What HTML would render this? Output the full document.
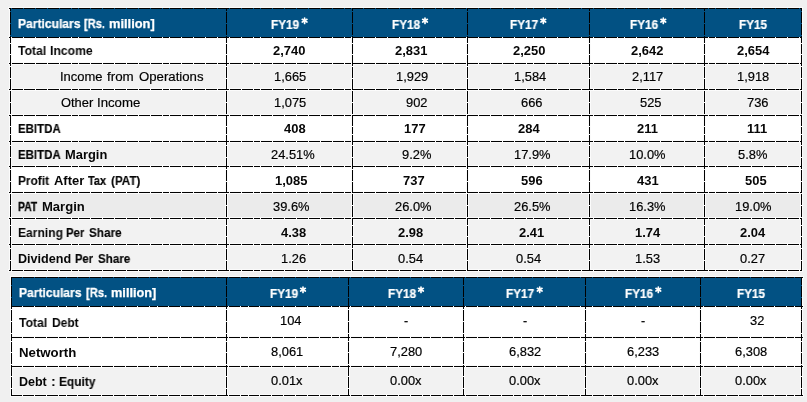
<!DOCTYPE html>
<html><head><meta charset="utf-8"><title>Financials</title>
<style>
html,body{margin:0;padding:0;}
body{width:807px;height:402px;overflow:hidden;background:#f0f0f0;position:relative;font-family:"Liberation Sans",sans-serif;}
svg{position:absolute;left:0;top:0;}
.t{position:absolute;white-space:pre;font-size:12.5px;line-height:12.5px;transform-origin:0 0;color:#000;-webkit-text-stroke:0.18px #000;will-change:transform;}
.b{font-weight:bold;color:#060606;-webkit-text-stroke:0;}
.w{color:#fff;-webkit-text-stroke:0.25px #fff;}
</style></head><body>
<svg width="807" height="402" viewBox="0 0 807 402" shape-rendering="crispEdges">
<rect x="10" y="37" width="792" height="26" fill="#ffffff"/>
<rect x="10" y="63" width="792" height="26" fill="#f2f2f2"/>
<rect x="10" y="89" width="792" height="26" fill="#f2f2f2"/>
<rect x="10" y="115" width="792" height="26" fill="#ffffff"/>
<rect x="10" y="141" width="792" height="25" fill="#f2f2f2"/>
<rect x="10" y="166" width="792" height="26" fill="#ffffff"/>
<rect x="10" y="192" width="792" height="26" fill="#ebebeb"/>
<rect x="10" y="218" width="792" height="26" fill="#f2f2f2"/>
<rect x="10" y="244" width="792" height="26" fill="#f2f2f2"/>
<g fill="#fbfbfb">
<rect x="8" y="7" width="795" height="3"/>
<rect x="8" y="36" width="795" height="3"/>
<rect x="8" y="62" width="795" height="3"/>
<rect x="8" y="88" width="795" height="3"/>
<rect x="8" y="114" width="795" height="3"/>
<rect x="8" y="140" width="795" height="3"/>
<rect x="8" y="165" width="795" height="3"/>
<rect x="8" y="191" width="795" height="3"/>
<rect x="8" y="217" width="795" height="3"/>
<rect x="8" y="243" width="795" height="3"/>
<rect x="8" y="269" width="795" height="3"/>
<rect x="9" y="7" width="3" height="265"/>
<rect x="225" y="7" width="3" height="265"/>
<rect x="351" y="7" width="3" height="265"/>
<rect x="466" y="7" width="3" height="265"/>
<rect x="588" y="7" width="3" height="265"/>
<rect x="703" y="7" width="3" height="265"/>
<rect x="800" y="7" width="3" height="265"/>
</g>
<rect x="10" y="8" width="792" height="29" fill="#025183"/>
<g stroke="#000" stroke-width="1" stroke-dasharray="10.93 1 10.93 1 10.93 1 10.93 1 10.93 1 10.93 1 10.93 1 6.5 1" fill="none">
<line x1="9" y1="8.5" x2="802" y2="8.5" stroke-dashoffset="20.80"/>
<line x1="9" y1="37.5" x2="802" y2="37.5" stroke-dashoffset="20.80"/>
<line x1="9" y1="63.5" x2="802" y2="63.5" stroke-dashoffset="20.80"/>
<line x1="9" y1="89.5" x2="802" y2="89.5" stroke-dashoffset="20.80"/>
<line x1="9" y1="115.5" x2="802" y2="115.5" stroke-dashoffset="20.80"/>
<line x1="9" y1="141.5" x2="802" y2="141.5" stroke-dashoffset="20.80"/>
<line x1="9" y1="166.5" x2="802" y2="166.5" stroke-dashoffset="20.80"/>
<line x1="9" y1="192.5" x2="802" y2="192.5" stroke-dashoffset="20.80"/>
<line x1="9" y1="218.5" x2="802" y2="218.5" stroke-dashoffset="20.80"/>
<line x1="9" y1="244.5" x2="802" y2="244.5" stroke-dashoffset="20.80"/>
<line x1="9" y1="270.5" x2="802" y2="270.5" stroke-dashoffset="20.80"/>
<line x1="10.5" y1="8" x2="10.5" y2="271" stroke-dashoffset="55.50"/>
<line x1="226.5" y1="8" x2="226.5" y2="271" stroke-dashoffset="55.50"/>
<line x1="352.5" y1="8" x2="352.5" y2="271" stroke-dashoffset="55.50"/>
<line x1="467.5" y1="8" x2="467.5" y2="271" stroke-dashoffset="55.50"/>
<line x1="589.5" y1="8" x2="589.5" y2="271" stroke-dashoffset="55.50"/>
<line x1="704.5" y1="8" x2="704.5" y2="271" stroke-dashoffset="55.50"/>
<line x1="801.5" y1="8" x2="801.5" y2="271" stroke-dashoffset="55.50"/>
</g>
<rect x="11" y="306" width="791" height="31" fill="#ffffff"/>
<rect x="11" y="337" width="791" height="29" fill="#ffffff"/>
<rect x="11" y="366" width="791" height="29" fill="#f2f2f2"/>
<g fill="#fbfbfb">
<rect x="10" y="276" width="794" height="3"/>
<rect x="10" y="305" width="794" height="3"/>
<rect x="10" y="336" width="794" height="3"/>
<rect x="10" y="365" width="794" height="3"/>
<rect x="10" y="394" width="794" height="3"/>
<rect x="10" y="276" width="3" height="121"/>
<rect x="225" y="276" width="3" height="121"/>
<rect x="347" y="276" width="3" height="121"/>
<rect x="462" y="276" width="3" height="121"/>
<rect x="584" y="276" width="3" height="121"/>
<rect x="699" y="276" width="3" height="121"/>
<rect x="800" y="276" width="3" height="121"/>
</g>
<rect x="11" y="277" width="791" height="29" fill="#025183"/>
<g stroke="#000" stroke-width="1" stroke-dasharray="10.93 1 10.93 1 10.93 1 10.93 1 10.93 1 10.93 1 10.93 1 6.5 1" fill="none">
<line x1="11" y1="277.5" x2="803" y2="277.5" stroke-dashoffset="35.50"/>
<line x1="11" y1="306.5" x2="803" y2="306.5" stroke-dashoffset="35.50"/>
<line x1="11" y1="337.5" x2="803" y2="337.5" stroke-dashoffset="35.50"/>
<line x1="11" y1="366.5" x2="803" y2="366.5" stroke-dashoffset="35.50"/>
<line x1="11" y1="395.5" x2="803" y2="395.5" stroke-dashoffset="35.50"/>
<line x1="11.5" y1="277" x2="11.5" y2="396" stroke-dashoffset="26.50"/>
<line x1="226.5" y1="277" x2="226.5" y2="396" stroke-dashoffset="26.50"/>
<line x1="348.5" y1="277" x2="348.5" y2="396" stroke-dashoffset="26.50"/>
<line x1="463.5" y1="277" x2="463.5" y2="396" stroke-dashoffset="26.50"/>
<line x1="585.5" y1="277" x2="585.5" y2="396" stroke-dashoffset="26.50"/>
<line x1="700.5" y1="277" x2="700.5" y2="396" stroke-dashoffset="26.50"/>
<line x1="801.5" y1="277" x2="801.5" y2="396" stroke-dashoffset="26.50"/>
</g>
</svg>
<svg width="807" height="402" viewBox="0 0 807 402"><g stroke="#fff" stroke-width="1.7" stroke-linecap="round">
<line x1="304.60" y1="18.00" x2="304.60" y2="23.40"/>
<line x1="302.26" y1="19.35" x2="306.94" y2="22.05"/>
<line x1="306.94" y1="19.35" x2="302.26" y2="22.05"/>
<line x1="425.00" y1="18.00" x2="425.00" y2="23.40"/>
<line x1="422.66" y1="19.35" x2="427.34" y2="22.05"/>
<line x1="427.34" y1="19.35" x2="422.66" y2="22.05"/>
<line x1="543.30" y1="18.00" x2="543.30" y2="23.40"/>
<line x1="540.96" y1="19.35" x2="545.64" y2="22.05"/>
<line x1="545.64" y1="19.35" x2="540.96" y2="22.05"/>
<line x1="663.30" y1="18.00" x2="663.30" y2="23.40"/>
<line x1="660.96" y1="19.35" x2="665.64" y2="22.05"/>
<line x1="665.64" y1="19.35" x2="660.96" y2="22.05"/>
<line x1="303.00" y1="287.00" x2="303.00" y2="292.40"/>
<line x1="300.66" y1="288.35" x2="305.34" y2="291.05"/>
<line x1="305.34" y1="288.35" x2="300.66" y2="291.05"/>
<line x1="421.00" y1="287.00" x2="421.00" y2="292.40"/>
<line x1="418.66" y1="288.35" x2="423.34" y2="291.05"/>
<line x1="423.34" y1="288.35" x2="418.66" y2="291.05"/>
<line x1="539.70" y1="287.00" x2="539.70" y2="292.40"/>
<line x1="537.36" y1="288.35" x2="542.04" y2="291.05"/>
<line x1="542.04" y1="288.35" x2="537.36" y2="291.05"/>
<line x1="658.30" y1="287.00" x2="658.30" y2="292.40"/>
<line x1="655.96" y1="288.35" x2="660.64" y2="291.05"/>
<line x1="660.64" y1="288.35" x2="655.96" y2="291.05"/>
</g></svg>
<div class="t b w" style="left:17.50px;top:18.42px;transform:scaleX(0.9665)">Particulars</div>
<div class="t b w" style="left:84.00px;top:18.42px;-webkit-text-stroke:0.33px;transform:scaleX(0.8815)">[Rs.</div>
<div class="t b w" style="left:109.40px;top:18.42px;transform:scaleX(1.0299)">million]</div>
<div class="t b" style="left:17.50px;top:45.42px;transform:scaleX(0.9769)">Total</div>
<div class="t b" style="left:50.30px;top:45.42px;transform:scaleX(0.9769)">Income</div>
<div class="t" style="left:60.26px;top:71.42px;transform:scaleX(1.0390)">Income</div>
<div class="t" style="left:107.10px;top:71.42px;transform:scaleX(1.0697)">from</div>
<div class="t" style="left:138.90px;top:71.42px;transform:scaleX(1.0543)">Operations</div>
<div class="t" style="left:61.30px;top:97.12px;transform:scaleX(1.0290)">Other</div>
<div class="t" style="left:97.14px;top:97.12px;transform:scaleX(1.0565)">Income</div>
<div class="t b" style="left:17.50px;top:123.42px;-webkit-text-stroke:0.16px;transform:scaleX(0.9183)">EBITDA</div>
<div class="t b" style="left:17.50px;top:149.42px;-webkit-text-stroke:0.16px;transform:scaleX(0.9183)">EBITDA</div>
<div class="t b" style="left:64.60px;top:149.42px;transform:scaleX(1.0313)">Margin</div>
<div class="t b" style="left:17.50px;top:175.42px;-webkit-text-stroke:0.09px;transform:scaleX(0.9500)">Profit</div>
<div class="t b" style="left:54.20px;top:175.42px;transform:scaleX(1.0374)">After</div>
<div class="t b" style="left:88.40px;top:175.42px;-webkit-text-stroke:0.24px;transform:scaleX(0.8713)">Tax</div>
<div class="t b" style="left:110.80px;top:175.42px;-webkit-text-stroke:0.13px;transform:scaleX(0.9327)">(PAT)</div>
<div class="t b" style="left:17.50px;top:201.12px;-webkit-text-stroke:0.32px;transform:scaleX(0.8295)">PAT</div>
<div class="t b" style="left:41.90px;top:201.12px;transform:scaleX(1.0437)">Margin</div>
<div class="t b" style="left:17.50px;top:227.12px;transform:scaleX(0.9652)">Earning</div>
<div class="t b" style="left:66.10px;top:227.12px;-webkit-text-stroke:0.17px;transform:scaleX(0.9118)">Per</div>
<div class="t b" style="left:89.00px;top:227.12px;-webkit-text-stroke:0.11px;transform:scaleX(0.9399)">Share</div>
<div class="t b" style="left:17.50px;top:252.72px;transform:scaleX(1.0087)">Dividend</div>
<div class="t b" style="left:75.10px;top:252.72px;-webkit-text-stroke:0.20px;transform:scaleX(0.8970)">Per</div>
<div class="t b" style="left:97.90px;top:252.72px;-webkit-text-stroke:0.14px;transform:scaleX(0.9284)">Share</div>
<div class="t b w" style="left:271.20px;top:19.12px;-webkit-text-stroke:0.22px;transform:scaleX(0.9390)">FY19</div>
<div class="t b w" style="left:391.60px;top:19.12px;-webkit-text-stroke:0.22px;transform:scaleX(0.9390)">FY18</div>
<div class="t b w" style="left:509.90px;top:19.12px;-webkit-text-stroke:0.22px;transform:scaleX(0.9390)">FY17</div>
<div class="t b w" style="left:629.90px;top:19.12px;-webkit-text-stroke:0.22px;transform:scaleX(0.9390)">FY16</div>
<div class="t b w" style="left:738.60px;top:19.12px;-webkit-text-stroke:0.22px;transform:scaleX(0.9357)">FY15</div>
<div class="t b w" style="left:269.60px;top:287.72px;-webkit-text-stroke:0.22px;transform:scaleX(0.9390)">FY19</div>
<div class="t b w" style="left:387.60px;top:287.72px;-webkit-text-stroke:0.22px;transform:scaleX(0.9390)">FY18</div>
<div class="t b w" style="left:506.30px;top:287.72px;-webkit-text-stroke:0.22px;transform:scaleX(0.9390)">FY17</div>
<div class="t b w" style="left:624.90px;top:287.72px;-webkit-text-stroke:0.22px;transform:scaleX(0.9390)">FY16</div>
<div class="t b w" style="left:736.90px;top:287.72px;-webkit-text-stroke:0.22px;transform:scaleX(0.9357)">FY15</div>
<div class="t b" style="left:273.34px;top:45.42px;transform:scaleX(1.0350)">2,740</div>
<div class="t b" style="left:395.49px;top:45.42px;transform:scaleX(1.0350)">2,831</div>
<div class="t b" style="left:512.64px;top:45.42px;transform:scaleX(1.0350)">2,250</div>
<div class="t b" style="left:631.29px;top:45.42px;transform:scaleX(1.0350)">2,642</div>
<div class="t b" style="left:736.79px;top:45.42px;transform:scaleX(1.0350)">2,654</div>
<div class="t" style="left:273.72px;top:71.42px;transform:scaleX(1.0300)">1,665</div>
<div class="t" style="left:395.87px;top:71.42px;transform:scaleX(1.0300)">1,929</div>
<div class="t" style="left:514.22px;top:71.42px;transform:scaleX(1.0300)">1,584</div>
<div class="t" style="left:631.84px;top:71.42px;transform:scaleX(1.0300)">2,117</div>
<div class="t" style="left:737.22px;top:71.42px;transform:scaleX(1.0300)">1,918</div>
<div class="t" style="left:273.72px;top:97.12px;transform:scaleX(1.0300)">1,075</div>
<div class="t" style="left:406.43px;top:97.12px;transform:scaleX(1.0300)">902</div>
<div class="t" style="left:521.38px;top:97.12px;transform:scaleX(1.0300)">666</div>
<div class="t" style="left:639.73px;top:97.12px;transform:scaleX(1.0300)">525</div>
<div class="t" style="left:746.88px;top:97.12px;transform:scaleX(1.0300)">736</div>
<div class="t b" style="left:283.68px;top:123.42px;transform:scaleX(1.0350)">408</div>
<div class="t b" style="left:404.03px;top:123.42px;transform:scaleX(1.0350)">177</div>
<div class="t b" style="left:518.18px;top:123.42px;transform:scaleX(1.0350)">284</div>
<div class="t b" style="left:636.69px;top:123.42px;transform:scaleX(1.0350)">211</div>
<div class="t b" style="left:747.20px;top:123.42px;transform:scaleX(1.0350)">111</div>
<div class="t" style="left:270.93px;top:149.42px;transform:scaleX(1.0300)">24.51%</div>
<div class="t" style="left:402.24px;top:149.42px;transform:scaleX(1.0300)">9.2%</div>
<div class="t" style="left:513.61px;top:149.42px;transform:scaleX(1.0300)">17.9%</div>
<div class="t" style="left:629.16px;top:149.42px;transform:scaleX(1.0300)">10.0%</div>
<div class="t" style="left:738.39px;top:149.42px;transform:scaleX(1.0300)">5.8%</div>
<div class="t b" style="left:275.09px;top:175.42px;transform:scaleX(1.0350)">1,085</div>
<div class="t b" style="left:402.68px;top:175.42px;transform:scaleX(1.0350)">737</div>
<div class="t b" style="left:521.38px;top:175.42px;transform:scaleX(1.0350)">596</div>
<div class="t b" style="left:636.53px;top:175.42px;transform:scaleX(1.0350)">431</div>
<div class="t b" style="left:745.38px;top:175.42px;transform:scaleX(1.0350)">505</div>
<div class="t" style="left:272.61px;top:201.12px;transform:scaleX(1.0300)">39.6%</div>
<div class="t" style="left:395.31px;top:201.12px;transform:scaleX(1.0300)">26.0%</div>
<div class="t" style="left:513.61px;top:201.12px;transform:scaleX(1.0300)">26.5%</div>
<div class="t" style="left:629.16px;top:201.12px;transform:scaleX(1.0300)">16.3%</div>
<div class="t" style="left:734.96px;top:201.12px;transform:scaleX(1.0300)">19.0%</div>
<div class="t b" style="left:280.59px;top:227.12px;transform:scaleX(1.0350)">4.38</div>
<div class="t b" style="left:397.74px;top:227.12px;transform:scaleX(1.0350)">2.98</div>
<div class="t b" style="left:519.04px;top:227.12px;transform:scaleX(1.0350)">2.41</div>
<div class="t b" style="left:634.59px;top:227.12px;transform:scaleX(1.0350)">1.74</div>
<div class="t b" style="left:740.39px;top:227.12px;transform:scaleX(1.0350)">2.04</div>
<div class="t" style="left:280.60px;top:252.72px;transform:scaleX(1.0300)">1.26</div>
<div class="t" style="left:397.60px;top:252.72px;transform:scaleX(1.0300)">0.54</div>
<div class="t" style="left:515.95px;top:252.72px;transform:scaleX(1.0300)">0.54</div>
<div class="t" style="left:634.75px;top:252.72px;transform:scaleX(1.0300)">1.53</div>
<div class="t" style="left:740.45px;top:252.72px;transform:scaleX(1.0300)">0.27</div>
<div class="t b w" style="left:18.90px;top:287.42px;transform:scaleX(0.9665)">Particulars</div>
<div class="t b w" style="left:85.60px;top:287.42px;-webkit-text-stroke:0.31px;transform:scaleX(0.8902)">[Rs.</div>
<div class="t b w" style="left:110.80px;top:287.42px;transform:scaleX(1.0208)">million]</div>
<div class="t b" style="left:18.90px;top:317.22px;transform:scaleX(0.9769)">Total</div>
<div class="t b" style="left:51.90px;top:317.22px;transform:scaleX(0.9611)">Debt</div>
<div class="t b" style="left:18.90px;top:346.82px;transform:scaleX(1.0574)">Networth</div>
<div class="t b" style="left:18.90px;top:376.02px;transform:scaleX(0.9925)">Debt</div>
<div class="t b" style="left:50.75px;top:376.02px;transform:scaleX(1.1500)">:</div>
<div class="t b" style="left:58.80px;top:376.02px;-webkit-text-stroke:0.09px;transform:scaleX(0.9544)">Equity</div>
<div class="t" style="left:280.38px;top:315.12px;transform:scaleX(1.0300)">104</div>
<div class="t" style="left:404.42px;top:315.12px;transform:scaleX(1.0000)">-</div>
<div class="t" style="left:522.92px;top:315.12px;transform:scaleX(1.0000)">-</div>
<div class="t" style="left:641.27px;top:315.12px;transform:scaleX(1.0000)">-</div>
<div class="t" style="left:750.31px;top:315.12px;transform:scaleX(1.0300)">32</div>
<div class="t" style="left:271.37px;top:345.72px;transform:scaleX(1.0300)">8,061</div>
<div class="t" style="left:390.37px;top:345.72px;transform:scaleX(1.0300)">7,280</div>
<div class="t" style="left:508.72px;top:345.72px;transform:scaleX(1.0300)">6,832</div>
<div class="t" style="left:627.17px;top:345.72px;transform:scaleX(1.0300)">6,233</div>
<div class="t" style="left:735.22px;top:345.72px;transform:scaleX(1.0300)">6,308</div>
<div class="t" style="left:271.37px;top:375.12px;transform:scaleX(1.0300)">0.01x</div>
<div class="t" style="left:390.07px;top:375.12px;transform:scaleX(1.0300)">0.00x</div>
<div class="t" style="left:508.72px;top:375.12px;transform:scaleX(1.0300)">0.00x</div>
<div class="t" style="left:626.87px;top:375.12px;transform:scaleX(1.0300)">0.00x</div>
<div class="t" style="left:735.02px;top:375.12px;transform:scaleX(1.0300)">0.00x</div>
</body></html>
